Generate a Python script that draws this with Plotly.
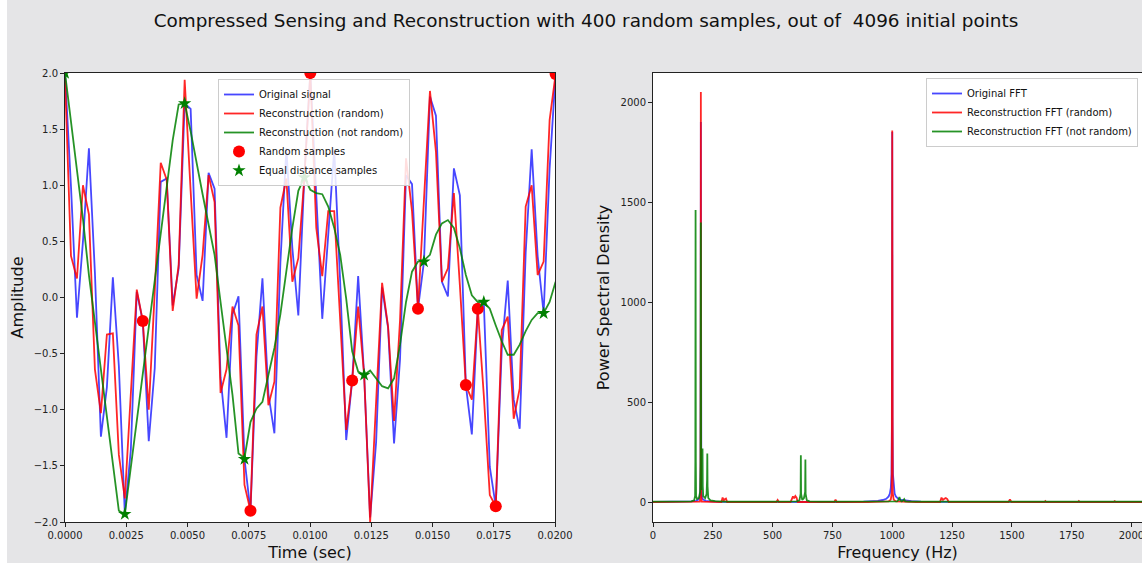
import numpy as np
import plotly.graph_objects as go

# ---------------- time-domain data (first 83 of 4096 samples over 1 s) ----------------
n_total = 4096
n_shown = 83
time_s = np.linspace(0, 1, n_total)[:n_shown]

original_signal = [
    2.00, 0.99, -0.18, 0.50, 1.33, 0.22, -1.24, -0.80, 0.18, -0.61,
    -1.93, -1.36, 0.05, -0.21, -1.28, -0.63, 1.03, 1.06, -0.07, 0.26,
    1.73, 1.68, 0.20, -0.03, 1.11, 0.97, -0.71, -1.25, -0.15, 0.01,
    -1.44, -1.90, -0.53, 0.17, -0.86, -1.21, 0.31, 1.33, 0.44, -0.16,
    1.07, 2.00, 0.91, -0.19, 0.56, 1.32, 0.13, -1.27, -0.74, 0.19,
    -0.69, -1.96, -1.29, 0.09, -0.27, -1.30, -0.55, 1.09, 1.01, -0.10,
    0.32, 1.79, 1.62, 0.14, 0.01, 1.15, 0.91, -0.78, -1.22, -0.10,
    -0.04, -1.51, -1.86, -0.46, 0.15, -0.91, -1.17, 0.40, 1.32, 0.37,
    -0.14, 1.15, 1.99,
]

recon_random = [
    1.96, 0.37, 0.17, 1.00, 0.74, -0.64, -1.03, -0.33, -0.32, -1.40,
    -1.79, -0.85, 0.07, -0.21, -1.00, 0.05, 1.20, 1.05, -0.12, 0.29,
    1.94, 0.95, -0.01, 0.38, 1.09, 0.85, -0.85, -0.64, -0.08, -0.25,
    -1.67, -1.90, -0.33, -0.08, -0.96, -0.75, 0.80, 1.06, 0.14, 0.35,
    1.06, 2.00, 0.62, 0.19, 0.77, 0.77, -0.21, -1.18, -0.74, -0.08,
    -0.69, -2.00, -0.93, 0.13, -0.26, -1.10, -0.20, 1.24, 0.77, -0.10,
    0.87, 1.84, 1.30, 0.14, 0.26, 0.93, 0.11, -0.78, -0.91, -0.10,
    -0.87, -1.76, -1.86, -0.29, -0.17, -1.08, -0.81, 0.81, 1.00, 0.20,
    0.32, 1.58, 1.99,
]

recon_not_random = [
    2.00, 1.57, 1.13, 0.70, 0.20, -0.22, -0.60, -1.03, -1.46, -1.90,
    -1.93, -1.52, -1.10, -0.69, -0.27, 0.14, 0.56, 0.97, 1.40, 1.72,
    1.73, 1.48, 1.19, 0.92, 0.65, 0.38, -0.04, -0.45, -0.87, -1.39,
    -1.43, -1.11, -0.99, -0.93, -0.70, -0.45, -0.15, 0.25, 0.62, 0.95,
    1.07, 0.96, 0.93, 0.92, 0.81, 0.62, 0.38, -0.01, -0.48, -0.66,
    -0.69, -0.65, -0.72, -0.79, -0.81, -0.72, -0.42, -0.04, 0.23, 0.32,
    0.33, 0.38, 0.56, 0.66, 0.69, 0.62, 0.44, 0.20, 0.02, -0.04,
    -0.04, -0.10, -0.25, -0.39, -0.51, -0.51, -0.42, -0.30, -0.20, -0.14,
    -0.14, -0.04, 0.14,
]

random_idx = [13, 31, 41, 48, 59, 67, 69, 72, 82]
random_vals = [-0.21, -1.90, 2.00, -0.74, -0.10, -0.78, -0.10, -1.86, 1.99]

equal_idx = [0, 10, 20, 30, 40, 50, 60, 70, 80]
equal_vals = [2.00, -1.93, 1.73, -1.44, 1.07, -0.69, 0.32, -0.04, -0.14]

# ---------------- frequency-domain data ----------------
orig_fft_freq = [0, 120, 160, 180, 190, 195, 198, 199, 200, 201, 202, 205, 210, 220, 240, 280,
                 400, 800, 880, 920, 940, 960, 975, 985, 990, 994, 997, 999, 1000, 1001, 1003,
                 1006, 1010, 1015, 1025, 1040, 1060, 1080, 1120, 1200, 1600, 2048]
orig_fft_psd = [0, 1, 3, 6, 12, 22, 60, 180, 1900, 180, 60, 22, 12, 6, 3, 1,
                0, 0, 2, 4, 6, 10, 16, 28, 42, 70, 140, 420, 1850, 420, 140,
                70, 42, 28, 16, 10, 6, 4, 2, 1, 0, 0]

rand_fft_freq = [0, 150, 196, 199, 200, 201, 204, 250, 286, 291, 296, 300, 305, 310,
                 400, 516, 521, 526, 575, 580, 585, 590, 595, 600, 605, 700, 758, 763, 768,
                 900, 985, 994, 998, 1000, 1002, 1006, 1015, 1100, 1200, 1206, 1212, 1218,
                 1224, 1230, 1236, 1300, 1486, 1492, 1498, 1636, 1640, 1644, 1776, 1780,
                 1784, 1926, 1930, 1934, 2048]
rand_fft_psd = [0, 0, 2, 40, 2050, 40, 2, 0, 0, 22, 8, 14, 17, 0,
                0, 0, 10, 0, 0, 20, 28, 18, 30, 22, 0, 0, 0, 12, 0,
                0, 3, 12, 45, 1858, 45, 12, 3, 0, 0, 22, 10, 16,
                20, 15, 0, 0, 0, 13, 0, 0, 5, 0, 0, 5,
                0, 0, 4, 0, 0]

eq_fft_freq = [0, 100, 160, 172, 176, 177, 178, 179, 180, 184, 192, 197, 199, 200, 201, 203,
               205, 207, 208, 210, 218, 224, 226, 227, 228, 231, 240, 260, 300, 500, 600,
               612, 617, 618, 619, 624, 631, 636, 637, 638, 643, 655, 700, 900, 1020, 1026,
               1030, 1034, 1040, 1046, 1050, 1054, 1070, 1200, 2048]
eq_fft_psd = [2, 2, 3, 8, 30, 200, 1460, 200, 30, 15, 20, 50, 200, 1397, 200, 60,
              120, 267, 80, 30, 20, 40, 110, 242, 80, 20, 8, 4, 2, 2, 3,
              8, 40, 234, 40, 10, 20, 50, 212, 40, 8, 3, 2, 2, 3, 10,
              25, 8, 3, 8, 14, 3, 2, 2, 2]

# ---------------- styling ----------------
BLUE = "rgba(0,0,255,0.72)"
RED = "rgba(255,0,0,0.85)"
GREEN = "rgba(0,128,0,0.85)"
FONT = "DejaVu Sans"
BG = "#e5e5e7"
W, H = 1142, 567
ML, MR, MT, MB = 65, 0, 73, 45
PW = W - ML - MR
PH = H - MT - MB

fig = go.Figure()

# left panel: time-domain signals
fig.add_trace(go.Scatter(x=time_s, y=original_signal, mode="lines", name="Original signal",
                         line=dict(color=BLUE, width=1.8), xaxis="x", yaxis="y", legend="legend"))
fig.add_trace(go.Scatter(x=time_s, y=recon_random, mode="lines", name="Reconstruction (random)",
                         line=dict(color=RED, width=1.8), xaxis="x", yaxis="y", legend="legend"))
fig.add_trace(go.Scatter(x=time_s, y=recon_not_random, mode="lines", name="Reconstruction (not random)",
                         line=dict(color=GREEN, width=1.8), xaxis="x", yaxis="y", legend="legend"))
fig.add_trace(go.Scatter(x=time_s[random_idx], y=random_vals, mode="markers", name="Random samples",
                         marker=dict(color="#ff0000", size=12, symbol="circle"),
                         xaxis="x", yaxis="y", legend="legend"))
fig.add_trace(go.Scatter(x=time_s[equal_idx], y=equal_vals, mode="markers", name="Equal distance samples",
                         marker=dict(color="#008000", size=10, symbol="star"),
                         xaxis="x", yaxis="y", legend="legend"))

# right panel: power spectral densities
fig.add_trace(go.Scatter(x=orig_fft_freq, y=orig_fft_psd, mode="lines", name="Original FFT",
                         line=dict(color=BLUE, width=1.8), xaxis="x2", yaxis="y2", legend="legend2"))
fig.add_trace(go.Scatter(x=rand_fft_freq, y=rand_fft_psd, mode="lines", name="Reconstruction FFT (random)",
                         line=dict(color=RED, width=1.8), xaxis="x2", yaxis="y2", legend="legend2"))
fig.add_trace(go.Scatter(x=eq_fft_freq, y=eq_fft_psd, mode="lines", name="Reconstruction FFT (not random)",
                         line=dict(color=GREEN, width=1.8), xaxis="x2", yaxis="y2", legend="legend2"))

axis_common = dict(showgrid=False, zeroline=False, showline=True, mirror=True,
                   linecolor="#222", linewidth=1, ticks="outside", ticklen=4,
                   tickcolor="#222", tickfont=dict(family=FONT, size=10, color="#222"))

legend_common = dict(bgcolor="rgba(255,255,255,0.85)", bordercolor="#cccccc", borderwidth=1,
                     font=dict(family=FONT, size=10, color="#111"),
                     yanchor="top", tracegroupgap=0)

fig.update_layout(
    width=W, height=H,
    margin=dict(l=ML, r=MR, t=MT, b=MB, autoexpand=False),
    paper_bgcolor=BG, plot_bgcolor="white",
    showlegend=True,
    title=dict(text="Compressed Sensing and Reconstruction with 400 random samples, out of \u00a04096 initial points",
               x=586 / W, xref="container", xanchor="center",
               y=1 - 21 / H, yref="container", yanchor="middle",
               font=dict(family=FONT, size=18.4, color="#111")),
    xaxis=dict(axis_common, domain=[0, 490 / PW], range=[0, 0.02], dtick=0.0025,
               tickformat=".4f", anchor="y",
               title=dict(text="Time (sec)", font=dict(family=FONT, size=16, color="#111"), standoff=6)),
    yaxis=dict(axis_common, domain=[0, 1], range=[-2, 2], dtick=0.5, tickformat=".1f", anchor="x",
               title=dict(text="Amplitude", font=dict(family=FONT, size=16, color="#111"), standoff=6)),
    xaxis2=dict(axis_common, domain=[588 / PW, 1], range=[0, 2044], dtick=250, anchor="y2",
                ticklabeloverflow="allow",
                title=dict(text="Frequency (Hz)", font=dict(family=FONT, size=16, color="#111"), standoff=6)),
    yaxis2=dict(axis_common, domain=[0, 1], range=[-100, 2145], dtick=500, anchor="x2",
                title=dict(text="Power Spectral Density", font=dict(family=FONT, size=16, color="#111"),
                           standoff=6)),
    legend=dict(legend_common, x=(218 - ML) / PW, xanchor="left", y=(H - MB - 79) / PH),
    legend2=dict(legend_common, x=(1138 - ML) / PW, xanchor="right", y=(H - MB - 78) / PH),
    shapes=[
        # thin white frame strips along the left and bottom edges of the figure
        dict(type="rect", xref="paper", yref="paper", layer="below",
             x0=-ML / PW, x1=(7 - ML) / PW, y0=-MB / PH, y1=(H - MB + 5) / PH,
             fillcolor="white", line=dict(width=0)),
        dict(type="rect", xref="paper", yref="paper", layer="below",
             x0=-ML / PW, x1=1.01, y0=-MB / PH, y1=(-MB + 4) / PH,
             fillcolor="white", line=dict(width=0)),
    ],
)

fig.write_html("out.html")
